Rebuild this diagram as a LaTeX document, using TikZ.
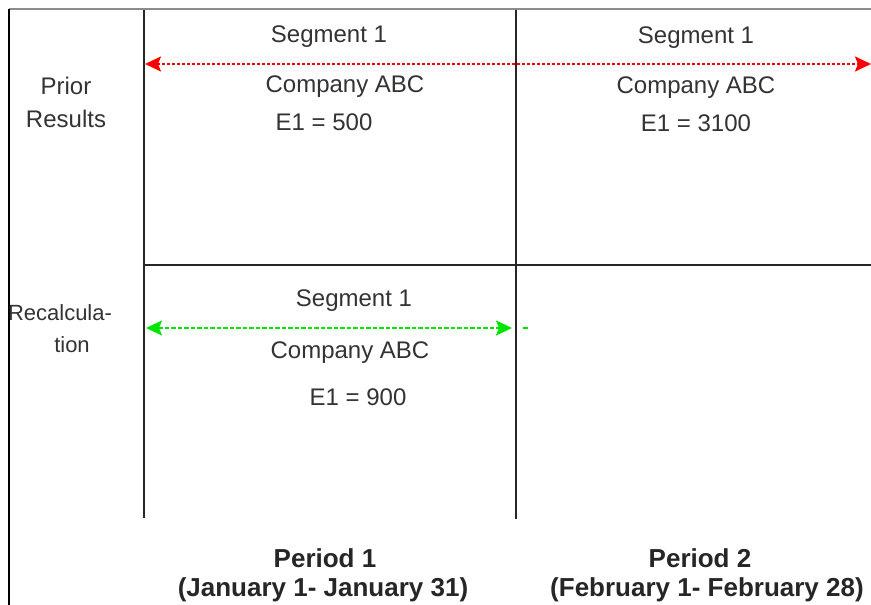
\documentclass[tikz,border=0pt]{standalone}
\usepackage{fontspec}
\setmainfont{Liberation Sans}
\usetikzlibrary{arrows.meta}
\begin{document}
\begin{tikzpicture}[x=1pt,y=-1pt,
  lbl/.style={font=\fontsize{24}{28}\selectfont, text=black!80, inner sep=0pt, anchor=center},
  slbl/.style={font=\fontsize{22}{26}\selectfont, text=black!80, inner sep=0pt, anchor=center},
  plbl/.style={font=\bfseries\fontsize{26}{30}\selectfont, text=black!85, inner sep=0pt, anchor=center},
  grid/.style={line width=2.4pt, draw=black!85},
  redarr/.style={draw=red, line width=2.2pt, dash pattern=on 3pt off 2pt, {Stealth[length=16pt,width=15pt,inset=3pt]}-{Stealth[length=16pt,width=15pt,inset=3pt]}},
  greenarr/.style={draw=green!90!black, line width=2.2pt, dash pattern=on 4.5pt off 2pt, {Stealth[length=16pt,width=15pt,inset=3pt]}-{Stealth[length=16pt,width=15pt,inset=3pt]}}
]
\useasboundingbox (0,0) rectangle (871,605);
\fill[white] (0,0) rectangle (871,605);
% frame
\coordinate (tl) at (9,9);
\coordinate (tr) at (871,9);
\coordinate (bl) at (9,605);
\draw[black!45, line width=1.2pt] (tl) -- (tr);
\draw[black, line width=1.6pt] (tl) -- (bl);
% grid
\coordinate (v1t) at (144,10);
\coordinate (v1b) at (144,518);
\coordinate (v2t) at (516,10);
\coordinate (v2b) at (516,519);
\coordinate (hl) at (144,265);
\coordinate (hr) at (871,265);
\draw[grid] (v1t) -- (v1b);
\draw[grid] (v2t) -- (v2b);
\draw[grid] (hl) -- (hr);
% arrows
\coordinate (ra) at (145,64);
\coordinate (rb) at (871,64);
\draw[redarr] (ra) -- (rb);
\coordinate (ga) at (146,328);
\coordinate (gb) at (512,328);
\draw[greenarr] (ga) -- (gb);
\coordinate (gda) at (523,328);
\coordinate (gdb) at (528,328);
\draw[draw=green!90!black, line width=2.2pt] (gda) -- (gdb);
% labels
\node[lbl] (pr1) at (66,86) {Prior};
\node[lbl] (pr2) at (66,119) {Results};
\node[slbl] (rc1) at (60,313) {Recalcula-};
\node[slbl] (rc2) at (72,345) {tion};
\node[lbl] (s1) at (329,37) {Segment 1};
\node[lbl] (c1) at (345,87) {Company ABC};
\node[lbl] (e1) at (324,122) {E1 = 500};
\node[lbl] (s2) at (696,38) {Segment 1};
\node[lbl] (c2) at (696,88) {Company ABC};
\node[lbl] (e2) at (696,123) {E1 = 3100};
\node[lbl] (s3) at (354,301) {Segment 1};
\node[lbl] (c3) at (350,353) {Company ABC};
\node[lbl] (e3) at (358,397) {E1 = 900};
\node[plbl] (p1) at (325,558) {Period 1};
\node[plbl] (d1) at (323,590) {(January 1- January 31)};
\node[plbl] (p2) at (700,558) {Period 2};
\node[plbl] (d2) at (707,590) {(February 1- February 28)};
\end{tikzpicture}
\end{document}
